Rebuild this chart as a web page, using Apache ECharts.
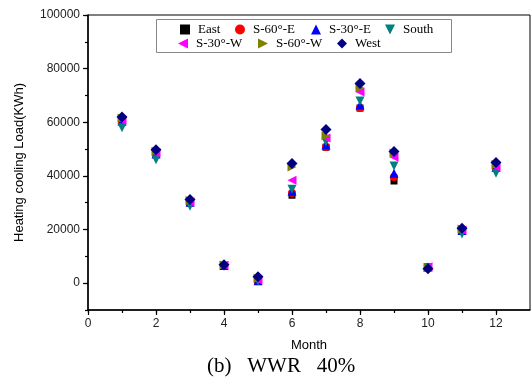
<!DOCTYPE html>
<html>
<head>
<meta charset="utf-8">
<script src="https://cdn.jsdelivr.net/npm/echarts@6/dist/echarts.min.js"></script>
<style>
  html, body { margin: 0; padding: 0; background: #fff; }
  #chart { width: 532px; height: 382px; }
</style>
</head>
<body>
<div id="chart"></div>
<script>
const months = [1, 2, 3, 4, 5, 6, 7, 8, 9, 10, 11, 12]
const seriesNames = ['East', 'S-60°-E', 'S-30°-E', 'South', 'S-30°-W', 'S-60°-W', 'West']

const east   = [60000, 48000, 30000, 6500,  800, 32800, 50700, 65300, 38100, 6000, 19500, 43000]
const s60e   = [60200, 48000, 30000, 6500,  800, 33600, 50800, 65300, 39600, 6000, 19500, 43000]
const s30e   = [60500, 48200, 30200, 6600,  900, 34300, 51500, 66400, 41000, 6000, 19600, 43200]
const south  = [58000, 46000, 28700, 6300,  700, 35000, 52600, 67900, 43700, 5800, 18300, 41000]
const s30w   = [60800, 48500, 30300, 6700, 1200, 38400, 54100, 71300, 47000, 6100, 19800, 43300]
const s60w   = [61500, 49200, 30800, 6800, 1800, 43300, 54900, 72800, 48500, 5800, 20200, 44300]
const west   = [62000, 49800, 31200, 6900, 2400, 44600, 57300, 74500, 49100, 5400, 20500, 45000]
const values = [east, s60e, s30e, south, s30w, s60w, west]

const xTicks = [0, 2, 4, 6, 8, 10, 12]
const xAllTicks = [0, 1, 2, 3, 4, 5, 6, 7, 8, 9, 10, 11, 12]
const yTicks = [0, 20000, 40000, 60000, 80000, 100000]
const yAllTicks = [-10000, 0, 10000, 20000, 30000, 40000, 50000, 60000, 70000, 80000, 90000, 100000]

// marker look per series (legend icons drawn as paths so the rotation shows)
const styles = [
  { color: '#000000', symbol: 'rect', size: 7, rotate: 0, icon: 'rect' },
  { color: '#ff0000', symbol: 'circle', size: 8, rotate: 0, icon: 'circle' },
  { color: '#0000ff', symbol: 'triangle', size: 9, rotate: 0, icon: 'triangle' },
  { color: '#008080', symbol: 'triangle', size: 9, rotate: 180, icon: 'path://M0,0L10,0L5,10Z' },
  { color: '#ff00ff', symbol: 'triangle', size: 9, rotate: 90, icon: 'path://M10,0L0,5L10,10Z' },
  { color: '#808000', symbol: 'triangle', size: 9, rotate: -90, icon: 'path://M0,0L10,5L0,10Z' },
  { color: '#000080', symbol: 'diamond', size: 11, rotate: 0, icon: 'diamond' }
]

// legend item anchor points (symbol left edge, row top)
const legendPos = [
  [180, 23], [235, 23], [311, 23], [385, 23],
  [178, 37], [258, 37], [337, 37]
]

const axisFont = { fontFamily: 'Liberation Sans, Arial', fontSize: 12, color: '#222' }
const tickLine = { color: '#000', width: 1.2 }

const chart = echarts.init(document.getElementById('chart'))
chart.setOption({
  animation: false,
  backgroundColor: '#fff',
  grid: { left: 88, right: 2, top: 15, bottom: 72, show: true, borderColor: '#000', borderWidth: 1 },
  xAxis: [{
    type: 'value', min: 0, max: 13, interval: 1,
    splitLine: { show: false },
    axisLine: { onZero: false, lineStyle: { color: '#000', width: 1.5 } },
    axisTick: { customValues: xAllTicks, length: 3, lineStyle: tickLine },
    axisLabel: { customValues: xTicks, margin: 8, ...axisFont },
    name: 'Month', nameLocation: 'middle', nameGap: 29,
    nameTextStyle: { fontFamily: 'Liberation Sans, Arial', fontSize: 13, color: '#000' }
  }, {
    // overlay for the longer major ticks
    type: 'value', min: 0, max: 13, position: 'bottom', offset: 0,
    splitLine: { show: false },
    axisLine: { show: false, onZero: false },
    axisTick: { show: true, customValues: xTicks, length: 5, lineStyle: tickLine },
    axisLabel: { show: false }
  }],
  yAxis: [{
    type: 'value', min: -10000, max: 100000, interval: 10000, position: 'left',
    splitLine: { show: false },
    axisLine: { show: true, onZero: false, lineStyle: { color: '#000', width: 1.5 } },
    axisTick: { show: true, customValues: yAllTicks, length: 3, lineStyle: tickLine },
    axisLabel: { customValues: yTicks, margin: 8, formatter: v => String(v), ...axisFont },
    name: 'Heating cooling Load(KWh)', nameLocation: 'middle', nameGap: 62,
    nameTextStyle: { fontFamily: 'Liberation Sans, Arial', fontSize: 13, color: '#000' }
  }, {
    type: 'value', min: -10000, max: 100000, position: 'left', offset: 0,
    splitLine: { show: false },
    axisLine: { show: false, onZero: false },
    axisTick: { show: true, customValues: yTicks, length: 5, lineStyle: tickLine },
    axisLabel: { show: false }
  }],
  legend: seriesNames.map((name, i) => ({
    data: [{ name, icon: styles[i].icon }],
    left: legendPos[i][0],
    top: legendPos[i][1],
    padding: 0,
    itemWidth: 10,
    itemHeight: 10,
    textStyle: { fontFamily: 'Liberation Serif, Times New Roman', fontSize: 13, color: '#000', padding: [0, 0, 0, 3] }
  })),
  graphic: [{
    type: 'rect',
    shape: { x: 156.5, y: 19.5, width: 295, height: 33 },
    style: { fill: 'none', stroke: '#888', lineWidth: 1 },
    z: 0
  }, {
    type: 'text',
    left: 207, top: 356,
    style: { text: '(b)   WWR   40%', font: '21px Liberation Serif, Times New Roman', fill: '#000' }
  }],
  series: seriesNames.map((name, i) => ({
    name,
    type: 'scatter',
    xAxisIndex: 0,
    yAxisIndex: 0,
    symbol: styles[i].symbol,
    symbolSize: styles[i].size,
    symbolRotate: styles[i].rotate,
    itemStyle: { color: styles[i].color, opacity: 1 },
    data: months.map((m, j) => [m, values[i][j]])
  }))
})
</script>
</body>
</html>
